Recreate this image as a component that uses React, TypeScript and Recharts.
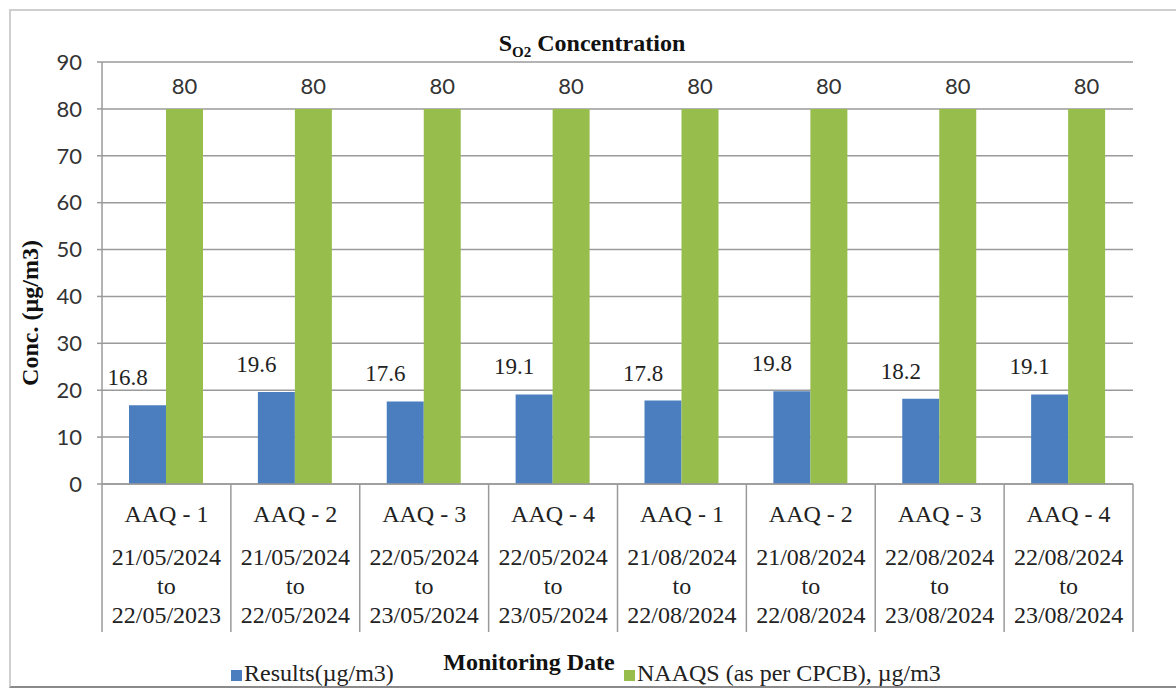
import { Bar, BarChart, CartesianGrid, LabelList, Legend, XAxis, YAxis, Label } from "recharts"

const sites = ["AAQ - 1", "AAQ - 2", "AAQ - 3", "AAQ - 4", "AAQ - 1", "AAQ - 2", "AAQ - 3", "AAQ - 4"]
const fromDates = ["21/05/2024", "21/05/2024", "22/05/2024", "22/05/2024", "21/08/2024", "21/08/2024", "22/08/2024", "22/08/2024"]
const toDates = ["22/05/2023", "22/05/2024", "23/05/2024", "23/05/2024", "22/08/2024", "22/08/2024", "23/08/2024", "23/08/2024"]
const results = [16.8, 19.6, 17.6, 19.1, 17.8, 19.8, 18.2, 19.1]
const naaqs = [80, 80, 80, 80, 80, 80, 80, 80]
const yTicks = [0, 10, 20, 30, 40, 50, 60, 70, 80, 90]

const data = sites.map((site, i) => ({
    key: String(i),
    site,
    from: fromDates[i],
    to: toDates[i],
    results: results[i],
    naaqs: naaqs[i],
}))

const W = 1176
const H = 690
const PLOT_LEFT = 102
const PLOT_RIGHT = 1133
const BAND = (PLOT_RIGHT - PLOT_LEFT) / sites.length

const serif = "'Liberation Serif', 'Times New Roman', serif"
const sans = "Lato, 'Open Sans', sans-serif"
const BLUE = "#4a7ebf"
const GREEN = "#97bd4c"
const GRID = "#9a9a9a"

function XTick(props: any) {
    const { x, y, index } = props
    const d = data[index]
    const left = x - BAND / 2
    return (
        <g>
            <line x1={left} y1={y} x2={left} y2={y + 148} stroke={GRID} strokeWidth={1.5} />
            {index === data.length - 1 && (
                <line x1={x + BAND / 2} y1={y} x2={x + BAND / 2} y2={y + 148} stroke={GRID} strokeWidth={1.5} />
            )}
            <text fontFamily={serif} fontSize={24} fill="#222" textAnchor="middle">
                <tspan x={x} y={y + 38}>{d.site}</tspan>
                <tspan x={x} y={y + 81}>{d.from}</tspan>
                <tspan x={x} y={y + 110}>to</tspan>
                <tspan x={x} y={y + 139}>{d.to}</tspan>
            </text>
        </g>
    )
}

function BlueLabel(props: any) {
    const { x, y, width, value } = props
    return (
        <text x={x + width / 2 - 20} y={y - 20} textAnchor="middle" fontFamily={serif} fontSize={23} fill="#222">
            {value}
        </text>
    )
}

function GreenLabel(props: any) {
    const { x, y, width, value } = props
    return (
        <text x={x + width / 2} y={y - 15} textAnchor="middle" fontFamily={sans} fontSize={22} fill="#333">
            {value}
        </text>
    )
}

function LegendBox() {
    const item = (color: string, text: string, left: number) => (
        <div style={{ position: "absolute", left, top: 0, display: "flex", alignItems: "flex-end", whiteSpace: "nowrap" }}>
            <span style={{ width: 11, height: 11, background: color, marginRight: 2, marginBottom: 4 }} />
            <span style={{ fontFamily: serif, fontSize: 24, lineHeight: "24px", color: "#222" }}>{text}</span>
        </div>
    )
    return (
        <div style={{ position: "relative", width: W, height: 26 }}>
            {item(BLUE, "Results(µg/m3)", 231)}
            {item(GREEN, "NAAQS (as per CPCB), µg/m3", 624)}
        </div>
    )
}

export default function App() {
    return (
        <div style={{ position: "absolute", left: 0, top: 0, width: W, height: H, background: "#fff", overflow: "hidden" }}>
            <div
                style={{
                    position: "absolute",
                    left: 9,
                    top: 9,
                    width: W,
                    height: 679,
                    borderTop: "2px solid #cfcfcf",
                    borderLeft: "2px solid #cfcfcf",
                    borderBottom: "2px solid #8a8a8a",
                    boxSizing: "border-box",
                }}
            />
            <BarChart
                width={W}
                height={H}
                data={data}
                margin={{ top: 62, right: W - PLOT_RIGHT, bottom: 56, left: 0 }}
                barSize={37}
                barGap={0}
            >
                <CartesianGrid vertical={false} stroke={GRID} strokeWidth={1.5} />
                <XAxis
                    dataKey="key"
                    height={150}
                    interval={0}
                    tickSize={0}
                    tickMargin={0}
                    tickLine={false}
                    axisLine={{ stroke: GRID, strokeWidth: 1.5 }}
                    tick={<XTick />}
                >
                    <Label
                        content={() => (
                            <text x={529} y={670} textAnchor="middle" fontFamily={serif} fontWeight="bold" fontSize={24} fill="#111">
                                Monitoring Date
                            </text>
                        )}
                    />
                </XAxis>
                <YAxis
                    width={PLOT_LEFT}
                    domain={[0, 90]}
                    ticks={yTicks}
                    interval={0}
                    tickSize={5}
                    tickMargin={15}
                    axisLine={{ stroke: GRID, strokeWidth: 1.5 }}
                    tickLine={{ stroke: GRID, strokeWidth: 1.5 }}
                    tick={{ fontFamily: sans, fontSize: 22, fill: "#333" }}
                >
                    <Label
                        content={() => (
                            <text
                                x={38}
                                y={313}
                                transform="rotate(-90 38 313)"
                                textAnchor="middle"
                                fontFamily={serif}
                                fontWeight="bold"
                                fontSize={24}
                                fill="#111"
                            >
                                Conc. (µg/m3)
                            </text>
                        )}
                    />
                </YAxis>
                <Legend
                    layout="horizontal"
                    verticalAlign="middle"
                    align="center"
                    wrapperStyle={{ top: 661, left: 0, width: W }}
                    content={() => <LegendBox />}
                />
                <Bar dataKey="results" name="Results(µg/m3)" fill={BLUE} isAnimationActive={false}>
                    <LabelList dataKey="results" content={<BlueLabel />} />
                </Bar>
                <Bar dataKey="naaqs" name="NAAQS (as per CPCB), µg/m3" fill={GREEN} isAnimationActive={false}>
                    <LabelList dataKey="naaqs" content={<GreenLabel />} />
                </Bar>
            </BarChart>
            <svg width={W} height={80} style={{ position: "absolute", left: 0, top: 0, pointerEvents: "none" }}>
                <text x={592} y={51} textAnchor="middle" fontFamily={serif} fontWeight="bold" fontSize={24} fill="#111">
                    S<tspan dy={6} fontSize={15}>O2</tspan>
                    <tspan dy={-6}> Concentration</tspan>
                </text>
            </svg>
        </div>
    )
}
